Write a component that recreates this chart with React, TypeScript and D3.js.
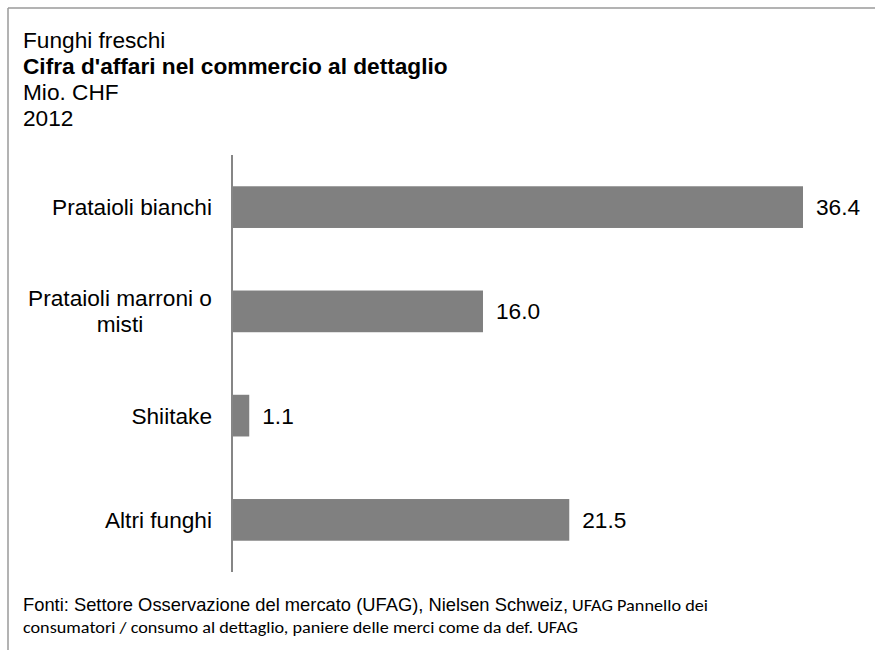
import React from "react";
import * as d3 from "d3";

const categories = ["Prataioli bianchi", "Prataioli marroni o misti", "Shiitake", "Altri funghi"];
const categoryLines = [["Prataioli bianchi"], ["Prataioli marroni o", "misti"], ["Shiitake"], ["Altri funghi"]];
const values = [36.4, 16.0, 1.1, 21.5];
const titleLines = ["Funghi freschi", "Cifra d'affari nel commercio al dettaglio", "Mio. CHF", "2012"];
const sourceArial = "Fonti: Settore Osservazione del mercato (UFAG), Nielsen Schweiz,";
const sourceCalibri1 = "UFAG Pannello dei";
const sourceCalibri2 = "consumatori / consumo al dettaglio, paniere delle merci come da def. UFAG";

const W = 875;
const H = 650;
const AX = 232;
const FS = 22.67;
const FONT = "Arial, 'Liberation Sans', Helvetica, sans-serif";
const CAL = "Carlito, Calibri, Lato, 'Open Sans', sans-serif";

export default function App() {
  const y = d3.scaleBand<string>().domain(categories).range([155, 572]).paddingInner(0.6).paddingOuter(0.3);
  const x = d3.scaleLinear().domain([0, d3.max(values) as number]).range([AX, 803]);
  const fmt = d3.format(".1f");

  return (
    <svg width={W} height={H} style={{ position: "absolute", left: 0, top: 0, background: "#fff" }}>
      <rect x={0} y={0} width={W} height={H} fill="#fff" />
      <line x1={8} y1={8} x2={W} y2={8} stroke="#9a9a9a" strokeWidth={1.5} />
      <line x1={8} y1={8} x2={8} y2={H} stroke="#9a9a9a" strokeWidth={1.5} />

      {titleLines.map((t, i) => (
        <text key={t} x={23} y={48 + i * 26} fontFamily={FONT} fontSize={FS} fontWeight={i === 1 ? "bold" : "normal"} fill="#000">
          {t}
        </text>
      ))}

      {categories.map((c, i) => {
        const yc = (y(c) as number) + y.bandwidth() / 2;
        const lines = categoryLines[i];
        return (
          <g key={c}>
            <rect x={x(0)} y={y(c)} width={x(values[i]) - x(0)} height={y.bandwidth()} fill="#808080" />
            <text x={x(values[i]) + 13} y={yc} dy="0.35em" fontFamily={FONT} fontSize={FS} fill="#000">
              {fmt(values[i])}
            </text>
            {lines.length === 1 ? (
              <text x={212} y={yc} dy="0.35em" textAnchor="end" fontFamily={FONT} fontSize={FS} fill="#000">
                {lines[0]}
              </text>
            ) : (
              <text x={120} y={yc} textAnchor="middle" fontFamily={FONT} fontSize={FS} fill="#000">
                {lines.map((l, k) => (
                  <tspan key={l} x={120} y={yc - 13 + k * 26} dy="0.35em">
                    {l}
                  </tspan>
                ))}
              </text>
            )}
          </g>
        );
      })}

      <line x1={AX} y1={155} x2={AX} y2={572} stroke="#868686" strokeWidth={2} />

      <text x={23} y={611} fontFamily={FONT} fontSize={18.2} fill="#000" textLength={545} lengthAdjust="spacingAndGlyphs">
        {sourceArial}
      </text>
      <text x={572} y={611} fontFamily={CAL} fontSize={16.5} fill="#000" textLength={136} lengthAdjust="spacingAndGlyphs">
        {sourceCalibri1}
      </text>
      <text x={23} y={633} fontFamily={CAL} fontSize={16.5} fill="#000" textLength={555} lengthAdjust="spacingAndGlyphs">
        {sourceCalibri2}
      </text>
    </svg>
  );
}
